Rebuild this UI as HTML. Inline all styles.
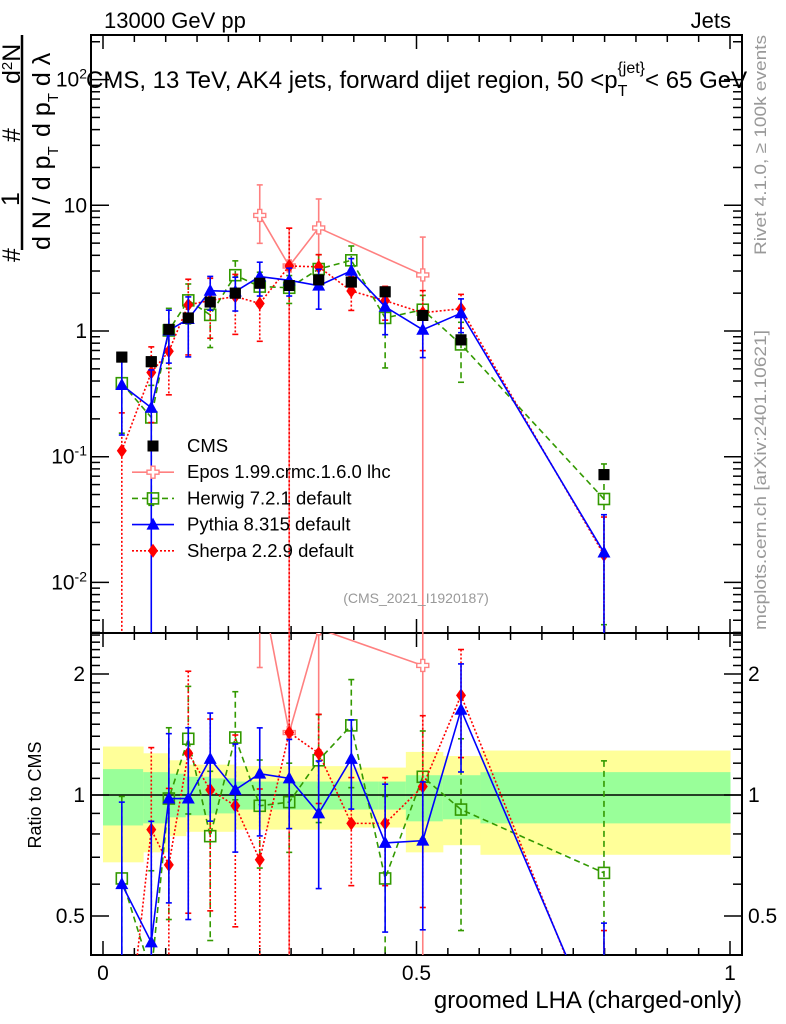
<!DOCTYPE html>
<html><head><meta charset="utf-8"><style>
html,body{margin:0;padding:0;background:#fff;width:786px;height:1024px;overflow:hidden;}
svg{display:block;font-family:"Liberation Sans",Arial,sans-serif;}
</style></head><body>
<svg id="plot" width="786" height="1024" viewBox="0 0 786 1024" xmlns="http://www.w3.org/2000/svg">
<defs>
<clipPath id="cm"><rect x="91" y="35" width="651" height="598"/></clipPath>
<clipPath id="cr"><rect x="91" y="633" width="651" height="322"/></clipPath>
</defs>
<g id="bands" clip-path="url(#cr)"></g>
<g id="axes"></g>
<g id="mainMarks" clip-path="url(#cm)"></g>
<g id="ratioMarks" clip-path="url(#cr)"></g>
<g id="legend"></g>

<text x="104" y="28" font-size="22">13000 GeV pp</text>
<text x="731" y="28" font-size="22" text-anchor="end">Jets</text>
<text x="86" y="88" font-size="24">CMS, 13 TeV, AK4 jets, forward dijet region, 50 &lt;p<tspan font-size="16" dy="8">T</tspan><tspan font-size="16" dy="-23" dx="-10">{jet}</tspan><tspan dy="15">&lt; 65 GeV</tspan></text>
<text x="416" y="603" font-size="14" fill="#999" text-anchor="middle">(CMS_2021_I1920187)</text>
<text transform="translate(766,255) rotate(-90)" font-size="17" fill="#999" textLength="220" lengthAdjust="spacingAndGlyphs">Rivet 4.1.0, ≥ 100k events</text>
<text transform="translate(766,630) rotate(-90)" font-size="17" fill="#999" textLength="300" lengthAdjust="spacingAndGlyphs">mcplots.cern.ch [arXiv:2401.10621]</text>
<text x="742" y="1008" font-size="24" text-anchor="end">groomed LHA (charged-only)</text>
<text transform="translate(41,795) rotate(-90)" font-size="18" text-anchor="middle">Ratio to CMS</text>
<g font-size="25">
<line x1="22" y1="35" x2="22" y2="250" stroke="#000" stroke-width="2.5"/>
<text transform="translate(20,262) rotate(-90)">#</text>
<text transform="translate(19,206) rotate(-90)">1</text>
<text transform="translate(20,142) rotate(-90)">#</text>
<text transform="translate(20,84) rotate(-90)">d<tspan font-size="15" dy="-8">2</tspan><tspan dy="8">N</tspan></text>
<text transform="translate(50,250) rotate(-90)">d N / d p<tspan font-size="15" dy="8">T</tspan></text>
<text transform="translate(50,137) rotate(-90)">d p<tspan font-size="15" dy="8">T</tspan><tspan dy="-8"> d λ</tspan></text>
</g>
</svg>
<script>
// ---- data ----
const lha = [0.030,0.077,0.105,0.136,0.171,0.211,0.250,0.297,0.344,0.396,0.450,0.510,0.571,0.799];
const cmsVals = [0.62,0.57,1.03,1.27,1.70,2.00,2.40,2.30,2.55,2.45,2.05,1.33,0.85,0.072];
const herwigRatio = [0.62,0.36,0.98,1.38,0.79,1.39,0.94,0.96,1.22,1.49,0.62,1.11,0.92,0.64];
const herwigErr = [0.6,0.8,0.5,0.35,0.45,0.3,0.3,0.25,0.3,0.3,0.6,0.3,0.5,0.9];
const pythiaRatio = [0.60,0.43,0.98,0.98,1.23,1.03,1.13,1.10,0.90,1.23,0.76,0.77,1.63,0.24];
const pythiaErr = [0.6,1.0,0.45,0.5,0.3,0.3,0.3,0.25,0.35,0.25,0.4,0.4,0.3,1.0];
const sherpaRatio = [0.18,0.82,0.67,1.27,1.03,0.94,0.69,1.43,1.27,0.85,0.85,1.05,1.77,0.23];
const sherpaErr = [1.0,0.6,0.55,0.6,0.5,0.5,0.5,1.0,0.25,0.3,0.3,0.5,0.3,1.0];
const eposLha = [0.250,0.297,0.344,0.510];
const eposRatio = [3.46,1.43,2.59,2.10];
const eposErrUp = [0.75,1.0,0.7,1.0];
const eposErrDn = [0.4,1.0,0.5,1.0];
const bandEdges = [0,0.064,0.104,0.132,0.171,0.21,0.25,0.295,0.343,0.394,0.44,0.483,0.542,0.602,1.0];
const yellowUp = [1.32,1.27,1.22,1.19,1.19,1.18,1.18,1.18,1.18,1.17,1.17,1.28,1.25,1.29];
const yellowDn = [0.68,0.72,0.79,0.81,0.81,0.82,0.82,0.82,0.82,0.83,0.83,0.72,0.75,0.71];
const greenUp = [1.16,1.14,1.13,1.11,1.10,1.08,1.08,1.08,1.08,1.08,1.08,1.12,1.12,1.14];
const greenDn = [0.84,0.85,0.88,0.89,0.90,0.92,0.92,0.92,0.92,0.92,0.92,0.86,0.87,0.85];
const mainTicks = ['10^-2','10^-1','1','10','10^2'];
const ratioTicks = ['0.5','1','2'];
const xTicks = ['0','0.5','1'];

// ---- axes functions ----
const X = v => 103 + v*627;
const YM = v => 331 - 125.7*Math.log10(Math.max(v,1e-6));
const YR = r => 795 - 121*Math.log2(Math.max(r,1e-6));
const NS = 'http://www.w3.org/2000/svg';
function mk(tag, attrs, parent){
  const e = document.createElementNS(NS, tag);
  for (const k in attrs) e.setAttribute(k, attrs[k]);
  parent.appendChild(e); return e;
}
const axes = document.getElementById('axes');
const bands = document.getElementById('bands');
const gm = document.getElementById('mainMarks');
const gr = document.getElementById('ratioMarks');
const leg = document.getElementById('legend');

// bands
for (let i=0;i<bandEdges.length-1;i++){
  const x0=X(bandEdges[i]), x1=X(bandEdges[i+1]);
  const y = mk('rect',{x:x0,y:YR(yellowUp[i]),width:x1-x0+0.5,height:YR(yellowDn[i])-YR(yellowUp[i]),fill:'#ffff99'},bands);
  
  
  const g = mk('rect',{x:x0,y:YR(greenUp[i]),width:x1-x0+0.5,height:YR(greenDn[i])-YR(greenUp[i]),fill:'#99ff99'},bands);
  
  
}
mk('line',{x1:91,x2:742,y1:YR(1),y2:YR(1),stroke:'#000','stroke-width':1.5},bands);

// frames
mk('rect',{x:91,y:35,width:651,height:598,fill:'none',stroke:'#000','stroke-width':2},axes);
mk('rect',{x:91,y:633,width:651,height:322,fill:'none',stroke:'#000','stroke-width':2},axes);
// x ticks
for (let k=0;k<=20;k++){
  const v=k*0.05, x=X(v), big = (k%10===0), len = big?14:7;
  [[633,-1],[955,-1],[35,1],[633,1]].forEach(([y0,d])=>{
    mk('line',{x1:x,x2:x,y1:y0,y2:y0+d*len,stroke:'#000','stroke-width':1.5},axes);
  });
}
xTicks.forEach((t,i)=>{
  const tx = mk('text',{x:X(i*0.5),y:980,'font-size':21,'text-anchor':'middle'},axes);
  tx.textContent=t;
  
  
});
// main y ticks
for (let d=-3; d<=2; d++){
  for (let m=1;m<=9;m++){
    const v=m*Math.pow(10,d), y=YM(v);
    if (y<35||y>633) continue;
    const len = m===1?18:9;
    mk('line',{x1:91,x2:91+len,y1:y,y2:y,stroke:'#000','stroke-width':1.5},axes);
    mk('line',{x1:742,x2:742-len,y1:y,y2:y,stroke:'#000','stroke-width':1.5},axes);
  }
}
mainTicks.forEach((t,i)=>{
  const y = YM(Math.pow(10,i-2));
  const tx = mk('text',{x:87,y:y+7,'font-size':21,'text-anchor':'end'},axes);
  
  
  if (t.indexOf('^')>=0){
    const p=t.split('^');
    tx.appendChild(document.createTextNode(p[0]));
    const s = mk('tspan',{'font-size':14,dy:-8},tx); s.textContent = p[1];
  } else tx.textContent=t;
});
// ratio y ticks
for (let r=0.4;r<=2.55;r+=0.1){
  const y=YR(r); if (y<633||y>955) continue;
  const major = Math.abs(r-0.5)<1e-6||Math.abs(r-1)<1e-6||Math.abs(r-2)<1e-6;
  const len = major?18:9;
  mk('line',{x1:91,x2:91+len,y1:y,y2:y,stroke:'#000','stroke-width':1.5},axes);
  mk('line',{x1:742,x2:742-len,y1:y,y2:y,stroke:'#000','stroke-width':1.5},axes);
}
ratioTicks.forEach(t=>{
  const y=YR(parseFloat(t));
  const a = mk('text',{x:85,y:y+7,'font-size':21,'text-anchor':'end'},axes); a.textContent=t;
  
  
  const b = mk('text',{x:748,y:y+7,'font-size':21},axes); b.textContent=t;
  
  
});

// markers
function marker(type,x,y,color,parent){
  let e;
  if (type==='sq') e=mk('rect',{x:x-5.5,y:y-5.5,width:11,height:11,fill:'#000'},parent);
  else if (type==='osq') e=mk('rect',{x:x-5.5,y:y-5.5,width:11,height:11,fill:'none',stroke:color,'stroke-width':1.6},parent);
  else if (type==='tri') e=mk('polygon',{points:`${x},${y-7} ${x-6.5},${y+5} ${x+6.5},${y+5}`,fill:color},parent);
  else if (type==='dia') e=mk('polygon',{points:`${x},${y-7} ${x-5},${y} ${x},${y+7} ${x+5},${y}`,fill:color},parent);
  else e=mk('path',{d:`M${x-2},${y-6}h4v4h4v4h-4v4h-4v-4h-4v-4h4z`,fill:'#fff',stroke:color,'stroke-width':1.4},parent);
  return e;
}
function series(name,xs,vals,up,dn,color,dash,type,parent,Yf){
  const g = mk('g',{},parent);
  
  
  const pts = xs.map((v,i)=>X(v)+','+Yf(vals[i])).join(' ');
  const st = {stroke:color,'stroke-width':1.6,fill:'none'};
  if (dash) st['stroke-dasharray']=dash;
  if (type!=='sq') mk('polyline',Object.assign({points:pts},st),g);
  xs.forEach((v,i)=>{
    if (up){
      const x=X(v), yt=Yf(vals[i]*(1+up[i])), yb=Yf(vals[i]*(1-dn[i]));
      mk('line',Object.assign({x1:x,x2:x,y1:yt,y2:Math.min(yb,1000)},st),g);
      mk('line',{x1:x-3,x2:x+3,y1:yt,y2:yt,stroke:color,'stroke-width':1.6},g);
      if (yb<1000) mk('line',{x1:x-3,x2:x+3,y1:yb,y2:yb,stroke:color,'stroke-width':1.6},g);
    }
    const m = marker(type,X(v),Yf(vals[i]),color,g);
    
    
  });
}
const models = [
  ['epos',eposLha,eposRatio,eposErrUp,eposErrDn,'#ff8080',null,'cross'],
  ['herwig',lha,herwigRatio,herwigErr,herwigErr,'#339900','6,4','osq'],
  ['sherpa',lha,sherpaRatio,sherpaErr,sherpaErr,'#ff0000','2,2','dia'],
  ['pythia',lha,pythiaRatio,pythiaErr,pythiaErr,'#0000ff',null,'tri']
];
series('cms-data',lha,cmsVals,null,null,'#000',null,'sq',gm,YM);
models.forEach(([n,xs,r,u,d,c,da,t])=>{
  const mv = xs.map((v,i)=>r[i]*cmsVals[lha.indexOf(v)]);
  series(n+'-main',xs,mv,u,d,c,da,t,gm,YM);
  series(n+'-ratio',xs,r,u,d,c,da,t,gr,YR);
});
series('cms-data-top',lha,cmsVals,null,null,'#000',null,'sq',gm,YM);

// legend
const legItems = [['CMS','#000',null,'sq'],['Epos 1.99.crmc.1.6.0 lhc','#ff8080',null,'cross'],['Herwig 7.2.1 default','#339900','6,4','osq'],['Pythia 8.315 default','#0000ff',null,'tri'],['Sherpa 2.2.9 default','#ff0000','2,2','dia']];
legItems.forEach(([lab,c,da,t],i)=>{
  const y = 446 + i*26.2;
  const g = mk('g',{},leg);
  
  
  if (t!=='sq'){
    const a={x1:132,x2:174,y1:y,y2:y,stroke:c,'stroke-width':1.6}; if(da) a['stroke-dasharray']=da;
    mk('line',a,g);
  }
  marker(t,153,y,c,g);
  const tx = mk('text',{x:187,y:y+6,'font-size':18.5},g); tx.textContent=lab;
});
</script>
</body></html>
